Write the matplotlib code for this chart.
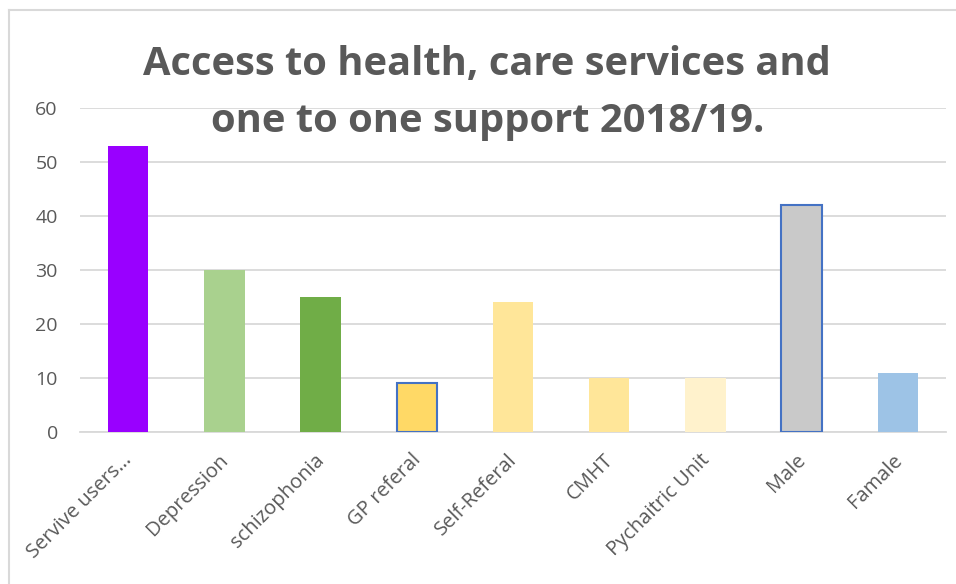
import matplotlib
matplotlib.use('Agg')
from matplotlib import pyplot as plt
from matplotlib.lines import Line2D
from matplotlib.transforms import ScaledTranslation

categories = ['Servive users…', 'Depression', 'schizophonia', 'GP referal', 'Self-Referal',
              'CMHT', 'Pychaitric Unit', 'Male', 'Famale']
values = [53, 30, 25, 9, 24, 10, 10, 42, 11]
bar_colors = ['#9900FF', '#A9D18E', '#70AD47', '#FFD966', '#FFE699',
              '#FFE699', '#FFF2CC', '#C9C9C9', '#9DC3E6']
edge_colors = ['none', 'none', 'none', '#4472C4', 'none', 'none', 'none', '#4472C4', 'none']
y_ticks = [0, 10, 20, 30, 40, 50, 60]
title_lines = ['Access to health, care services and', 'one to one support 2018/19.']

plt.rcParams['font.family'] = ['Open Sans', 'DejaVu Sans']

W, H = 956, 584
fig = plt.figure(figsize=(W / 100, H / 100), dpi=100)
ax = fig.add_axes([80 / W, 1 - 432 / H, 866 / W, 324 / H])

x = range(len(categories))
for i in x:
    ec = edge_colors[i]
    ax.bar(i, values[i], width=0.42, color=bar_colors[i],
           edgecolor=ec, linewidth=1.5 if ec != 'none' else 0, zorder=3)

ax.set_xlim(-0.5, len(categories) - 0.5)
ax.set_ylim(0, 60)
ax.set_yticks(y_ticks)
ax.yaxis.grid(True, color='#D9D9D9', linewidth=1.3, zorder=0)
for s in ['top', 'right', 'left']:
    ax.spines[s].set_visible(False)
ax.spines['bottom'].set_color('#D9D9D9')
ax.spines['bottom'].set_linewidth(1.3)
ax.tick_params(axis='both', length=0, colors='#595959')
ax.tick_params(axis='y', pad=16, labelsize=14)
ax.tick_params(axis='x', pad=13, labelsize=14.5)
ax.set_xticks(list(x))
ax.set_xticklabels(categories, rotation=45, ha='right', va='top', rotation_mode='anchor')
# nudge labels a little left so their ends sit over the ticks
shift = ScaledTranslation(-6 / 100, 0, fig.dpi_scale_trans)
for lbl in ax.get_xticklabels():
    lbl.set_transform(lbl.get_transform() + shift)

# title, two lines placed on their baselines
fig.text(487 / W, 1 - 75 / H, title_lines[0], ha='center', va='baseline',
         fontsize=28.7, fontweight='bold', color='#595959')
fig.text(488 / W, 1 - 132 / H, title_lines[1], ha='center', va='baseline',
         fontsize=28.7, fontweight='bold', color='#595959')

# chart border (top and left edges only are visible)
fig.add_artist(Line2D([8.5 / W, 1], [1 - 10 / H, 1 - 10 / H], transform=fig.transFigure,
                      color='#D9D9D9', linewidth=1.5))
fig.add_artist(Line2D([8.5 / W, 8.5 / W], [0, 1 - 10 / H], transform=fig.transFigure,
                      color='#D9D9D9', linewidth=1.5))

fig.savefig('out.png', dpi=100)
